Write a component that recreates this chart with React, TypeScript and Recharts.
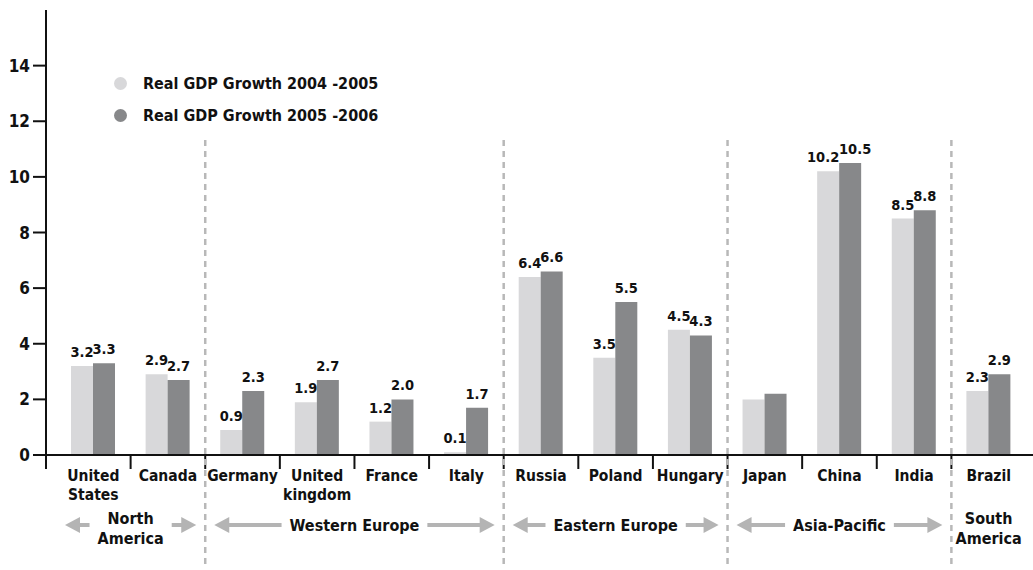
import { BarChart, Bar, XAxis, YAxis, Legend, LabelList } from 'recharts'

const categories = ['United\nStates', 'Canada', 'Germany', 'United\nkingdom', 'France', 'Italy', 'Russia', 'Poland', 'Hungary', 'Japan', 'China', 'India', 'Brazil']
const growth0405 = [3.2, 2.9, 0.9, 1.9, 1.2, 0.1, 6.4, 3.5, 4.5, 2.0, 10.2, 8.5, 2.3]
const growth0506 = [3.3, 2.7, 2.3, 2.7, 2.0, 1.7, 6.6, 5.5, 4.3, 2.2, 10.5, 8.8, 2.9]
const labels0405 = ['3.2', '2.9', '0.9', '1.9', '1.2', '0.1', '6.4', '3.5', '4.5', '', '10.2', '8.5', '2.3']
const labels0506 = ['3.3', '2.7', '2.3', '2.7', '2.0', '1.7', '6.6', '5.5', '4.3', '', '10.5', '8.8', '2.9']
const regionNames = ['North\nAmerica', 'Western Europe', 'Eastern Europe', 'Asia-Pacific', 'South\nAmerica']
const regionSizes = [2, 4, 3, 3, 1]
const yTicks = [0, 2, 4, 6, 8, 10, 12, 14]
const seriesNames = ['Real GDP Growth 2004 -2005', 'Real GDP Growth 2005 -2006']

const data = categories.map((c, i) => ({
  name: c,
  a: growth0405[i],
  b: growth0506[i],
  la: labels0405[i],
  lb: labels0506[i],
}))

const regionStarts = regionSizes.map((_, i) => regionSizes.slice(0, i).reduce((s, v) => s + v, 0))

const W = 1033
const H = 570
const Y_AXIS_W = 46
const PAD_L = 10
const PAD_R = 7
const BAND = (W - Y_AXIS_W - PAD_L - PAD_R) / categories.length
const FONT = "'Liberation Sans Narrow', 'Arial Narrow', 'DejaVu Sans Condensed', 'Liberation Sans', sans-serif"
const LIGHT = '#d8d8da'
const DARK = '#87888a'
const ARROW = '#b4b4b4'
const INK = '#111'
const CAT_SIZE = 15.5
const REGION_SIZE = 16

let ctx: CanvasRenderingContext2D | null = null
function measure(s: string, size: number) {
  if (!ctx) ctx = document.createElement('canvas').getContext('2d')
  if (!ctx) return s.length * size * 0.45
  ctx.font = `bold ${size}px ${FONT}`
  return ctx.measureText(s).width
}

function CategoryTick(props: any) {
  const { x, y, index } = props
  const left = x - BAND / 2
  const lines = categories[index].split('\n')
  const r = regionStarts.indexOf(index)
  const tickX = index === 0 ? left - PAD_L : left
  let region = null
  if (r >= 0) {
    const span = regionSizes[r] * BAND
    const cx = left + span / 2
    const rl = regionNames[r].split('\n')
    const yc = y + 70
    const tw = Math.max(...rl.map(l => measure(l, REGION_SIZE)))
    const arrows = regionSizes[r] > 1
    const a0 = left + 9
    const a1 = cx - tw / 2 - 8
    const b0 = cx + tw / 2 + 8
    const b1 = left + span - 9
    region = (
      <g>
        {arrows && (
          <g fill={ARROW}>
            <polygon points={`${a0},${yc} ${a0 + 15},${yc - 8} ${a0 + 15},${yc + 8}`} />
            <rect x={a0 + 13} y={yc - 2} width={Math.max(0, a1 - a0 - 13)} height={4} />
            <polygon points={`${b1},${yc} ${b1 - 15},${yc - 8} ${b1 - 15},${yc + 8}`} />
            <rect x={b0} y={yc - 2} width={Math.max(0, b1 - 13 - b0)} height={4} />
          </g>
        )}
        <text x={cx} y={rl.length > 1 ? yc - 1 : yc + 6} textAnchor="middle" fill={INK}
          style={{ fontFamily: FONT, fontSize: REGION_SIZE, fontWeight: 'bold' }}>
          {rl.map((l, i) => <tspan key={i} x={cx} dy={i ? 20 : 0}>{l}</tspan>)}
        </text>
        {r > 0 && (
          <line x1={left} x2={left} y1={y - 315} y2={y + 112} stroke="#b8b8b8" strokeWidth={2.5} strokeDasharray="6 5" />
        )}
      </g>
    )
  }
  return (
    <g>
      <line x1={tickX} x2={tickX} y1={y} y2={y + 14} stroke={INK} strokeWidth={2} />
      <text x={x} y={y + 26} textAnchor="middle" fill={INK}
        style={{ fontFamily: FONT, fontSize: CAT_SIZE, fontWeight: 'bold' }}>
        {lines.map((l, i) => <tspan key={i} x={x} dy={i ? 19 : 0}>{l}</tspan>)}
      </text>
      {region}
    </g>
  )
}

// value label above a bar; long labels are nudged outward so neighbours don't collide
function BarLabel({ x, y, width, value, side }: any) {
  const s = String(value ?? '')
  if (!s) return null
  const nudge = s.length > 3 ? side * 5 : 0
  return (
    <text x={Number(x) + Number(width) / 2 + nudge} y={Number(y) - 9} textAnchor="middle" fill={INK}
      style={{ fontFamily: FONT, fontSize: 14.5, fontWeight: 'bold' }}>
      {s}
    </text>
  )
}

function LegendBox() {
  const colors = [LIGHT, DARK]
  return (
    <div style={{ fontFamily: FONT, fontSize: 16, fontWeight: 'bold', color: INK }}>
      {seriesNames.map((n, i) => (
        <div key={n} style={{ display: 'flex', alignItems: 'center', height: 32 }}>
          <span style={{ width: 13, height: 13, borderRadius: '50%', background: colors[i], display: 'inline-block', marginRight: 16 }} />
          <span>{n}</span>
        </div>
      ))}
    </div>
  )
}

export default function App() {
  return (
    <div style={{ position: 'absolute', left: 0, top: 0, width: W, height: H, background: '#fff' }}>
      <BarChart width={W} height={H} data={data} margin={{ top: 10, right: 0, bottom: 0, left: 0 }} barGap={0} barSize={22}>
        <YAxis domain={[0, 16]} ticks={yTicks} width={Y_AXIS_W} tickSize={13} tickMargin={3}
          axisLine={{ stroke: INK, strokeWidth: 2 }} tickLine={{ stroke: INK, strokeWidth: 2 }}
          tick={{ fill: INK, fontFamily: FONT, fontSize: 17, fontWeight: 'bold' }} />
        <XAxis dataKey="name" height={115} interval={0} tickSize={0} tickMargin={0} padding={{ left: PAD_L, right: PAD_R }}
          axisLine={{ stroke: INK, strokeWidth: 2 }} tickLine={false} tick={<CategoryTick />} />
        <Legend layout="vertical" align="center" verticalAlign="middle" wrapperStyle={{ left: 114, top: 67, width: 320 }}
          content={() => <LegendBox />} />
        <Bar dataKey="a" fill={LIGHT} isAnimationActive={false}>
          <LabelList dataKey="la" content={(p: any) => <BarLabel {...p} side={-1} />} />
        </Bar>
        <Bar dataKey="b" fill={DARK} isAnimationActive={false}>
          <LabelList dataKey="lb" content={(p: any) => <BarLabel {...p} side={1} />} />
        </Bar>
      </BarChart>
    </div>
  )
}
